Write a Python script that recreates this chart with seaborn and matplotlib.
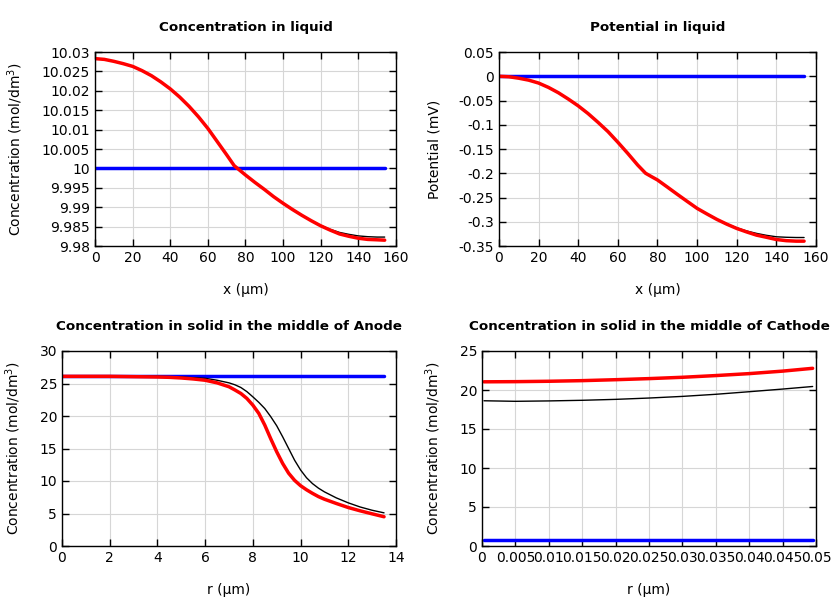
import numpy as np
import pandas as pd
import matplotlib
matplotlib.use('Agg')
import matplotlib.pyplot as plt
import seaborn as sns
from matplotlib.ticker import FuncFormatter, MultipleLocator

# liquid phase profiles along x (um)
x_liq = [0, 5, 10, 15, 20, 25, 30, 35, 40, 45, 50, 55, 60, 65, 70, 74, 77, 80, 85, 90, 95,
         100, 105, 110, 115, 120, 125, 130, 135, 140, 145, 150, 154]
conc_liq_red = [10.0283, 10.0281, 10.0276, 10.0270, 10.0263, 10.0252, 10.0239, 10.0223, 10.0205, 10.0184,
                10.0160, 10.0133, 10.0103, 10.0069, 10.0035, 10.0007, 9.9995, 9.9983, 9.9964, 9.9946, 9.9927,
                9.9910, 9.9894, 9.9879, 9.9865, 9.9852, 9.9841, 9.9831, 9.9825, 9.9820, 9.9817, 9.9816, 9.9815]
conc_liq_black = [10.0283, 10.0281, 10.0276, 10.0270, 10.0263, 10.0252, 10.0239, 10.0223, 10.0205, 10.0184,
                  10.0160, 10.0133, 10.0103, 10.0069, 10.0035, 10.0007, 9.9995, 9.9983, 9.9964, 9.9946, 9.9927,
                  9.9910, 9.9894, 9.9879, 9.9865, 9.9853, 9.9843, 9.9835, 9.9830, 9.9826, 9.9824, 9.9823, 9.9823]
conc_liq_blue = [10.0] * len(x_liq)

pot_liq_red = [0, -0.001, -0.004, -0.008, -0.014, -0.023, -0.0340, -0.047, -0.061, -0.077, -0.095,
               -0.114, -0.136, -0.159, -0.183, -0.200, -0.207, -0.2138, -0.2285, -0.2434, -0.258,
               -0.2724, -0.284, -0.2952, -0.305, -0.3138, -0.321, -0.3276, -0.332, -0.3366, -0.339, -0.340, -0.340]
pot_liq_black = [0, -0.001, -0.004, -0.008, -0.014, -0.023, -0.0340, -0.047, -0.061, -0.077, -0.095,
                 -0.114, -0.136, -0.159, -0.183, -0.200, -0.207, -0.2138, -0.2285, -0.2434, -0.258,
                 -0.2724, -0.284, -0.2950, -0.3045, -0.3125, -0.319, -0.324, -0.328, -0.331, -0.332, -0.3325, -0.3325]
pot_liq_blue = [0.0] * len(x_liq)

# solid phase, anode particle (r in um)
r_an = [0, 1, 2, 3, 4, 4.5, 5, 5.5, 6, 6.5, 7, 7.25, 7.5, 7.75, 8, 8.25, 8.5, 8.75, 9, 9.25, 9.5,
        9.75, 10, 10.25, 10.5, 10.75, 11, 11.5, 12, 12.5, 13, 13.5]
an_red = [26.1, 26.1, 26.1, 26.05, 26.0, 25.95, 25.85, 25.7, 25.5, 25.1, 24.5, 24.0, 23.46, 22.7, 21.67,
          20.4, 18.6, 16.5, 14.5, 12.7, 11.2, 10.1, 9.28, 8.65, 8.1, 7.6, 7.2, 6.54, 5.92, 5.41, 4.95, 4.5]
an_black = [26.1, 26.1, 26.1, 26.1, 26.1, 26.05, 26.0, 25.9, 25.8, 25.5, 25.1, 24.8, 24.38, 23.75, 22.95,
            22.1, 21.15, 19.9, 18.5, 16.8, 15.0, 13.2, 11.7, 10.5, 9.6, 8.9, 8.33, 7.4, 6.64, 6.0, 5.5, 5.1]
an_blue = [26.1] * len(r_an)

# solid phase, cathode particle
r_ca = [0.0003, 0.005, 0.01, 0.015, 0.02, 0.025, 0.03, 0.035, 0.04, 0.045, 0.0495]
ca_red = [21.05, 21.07, 21.12, 21.2, 21.32, 21.46, 21.63, 21.85, 22.1, 22.42, 22.78]
ca_black = [18.62, 18.55, 18.6, 18.68, 18.8, 18.97, 19.18, 19.45, 19.78, 20.12, 20.45]
ca_blue = [0.75] * len(r_ca)

sns.set_style("ticks", {"xtick.direction": "in", "ytick.direction": "in",
                        "axes.grid": True, "grid.color": "#d3d3d3", "axes.edgecolor": "black"})
plt.rcParams['font.family'] = ['DejaVu Sans']
plt.rcParams['axes.unicode_minus'] = False
plt.rcParams['font.size'] = 10
for k in ['text.color', 'axes.labelcolor', 'xtick.color', 'ytick.color']:
    plt.rcParams[k] = 'black'

fig = plt.figure(figsize=(8.4, 6), dpi=100)
fmt = FuncFormatter(lambda v, p: '%g' % round(v, 6))


def panel(rect, x, blue, black, red, title, xlabel, ylabel, xlim, ylim, xstep, ystep):
    ax = fig.add_axes(rect)
    sns.lineplot(x=x, y=blue, ax=ax, color='blue', lw=2.5, sort=False)
    sns.lineplot(x=x, y=black, ax=ax, color='black', lw=1.0, sort=False)
    sns.lineplot(x=x, y=red, ax=ax, color='red', lw=2.5, sort=False)
    ax.set_xlim(*xlim)
    ax.set_ylim(*ylim)
    ax.xaxis.set_major_locator(MultipleLocator(xstep))
    ax.yaxis.set_major_locator(MultipleLocator(ystep))
    ax.xaxis.set_major_formatter(fmt)
    ax.yaxis.set_major_formatter(fmt)
    ax.tick_params(top=True, right=True, length=5, width=1, labelsize=10)
    ax.grid(True, color='#d6d6d6', lw=0.8)
    for s in ax.spines.values():
        s.set_linewidth(1.0)
        s.set_color('black')
    ax.set_title(title, fontweight='bold', fontsize=9.7, pad=15)
    ax.set_xlabel(xlabel, labelpad=13)
    ax.set_ylabel(ylabel, labelpad=12)
    return ax


conc_label = 'Concentration (mol/dm$^3$)'
panel([0.1131, 0.59, 0.3583, 0.3233], x_liq, conc_liq_blue, conc_liq_black, conc_liq_red,
      'Concentration in liquid', 'x (µm)', conc_label, (0, 160), (9.98, 10.03), 20, 0.005)
panel([0.594, 0.59, 0.3774, 0.3233], x_liq, pot_liq_blue, pot_liq_black, pot_liq_red,
      'Potential in liquid', 'x (µm)', 'Potential (mV)', (0, 160), (-0.35, 0.05), 20, 0.05)
panel([0.0738, 0.09, 0.3976, 0.325], r_an, an_blue, an_black, an_red,
      'Concentration in solid in the middle of Anode', 'r (µm)', conc_label, (0, 14), (0, 30), 2, 5)
panel([0.5738, 0.09, 0.3976, 0.325], r_ca, ca_blue, ca_black, ca_red,
      'Concentration in solid in the middle of Cathode', 'r (µm)', conc_label, (0, 0.05), (0, 25), 0.005, 5)

fig.savefig('out.png', dpi=100)
